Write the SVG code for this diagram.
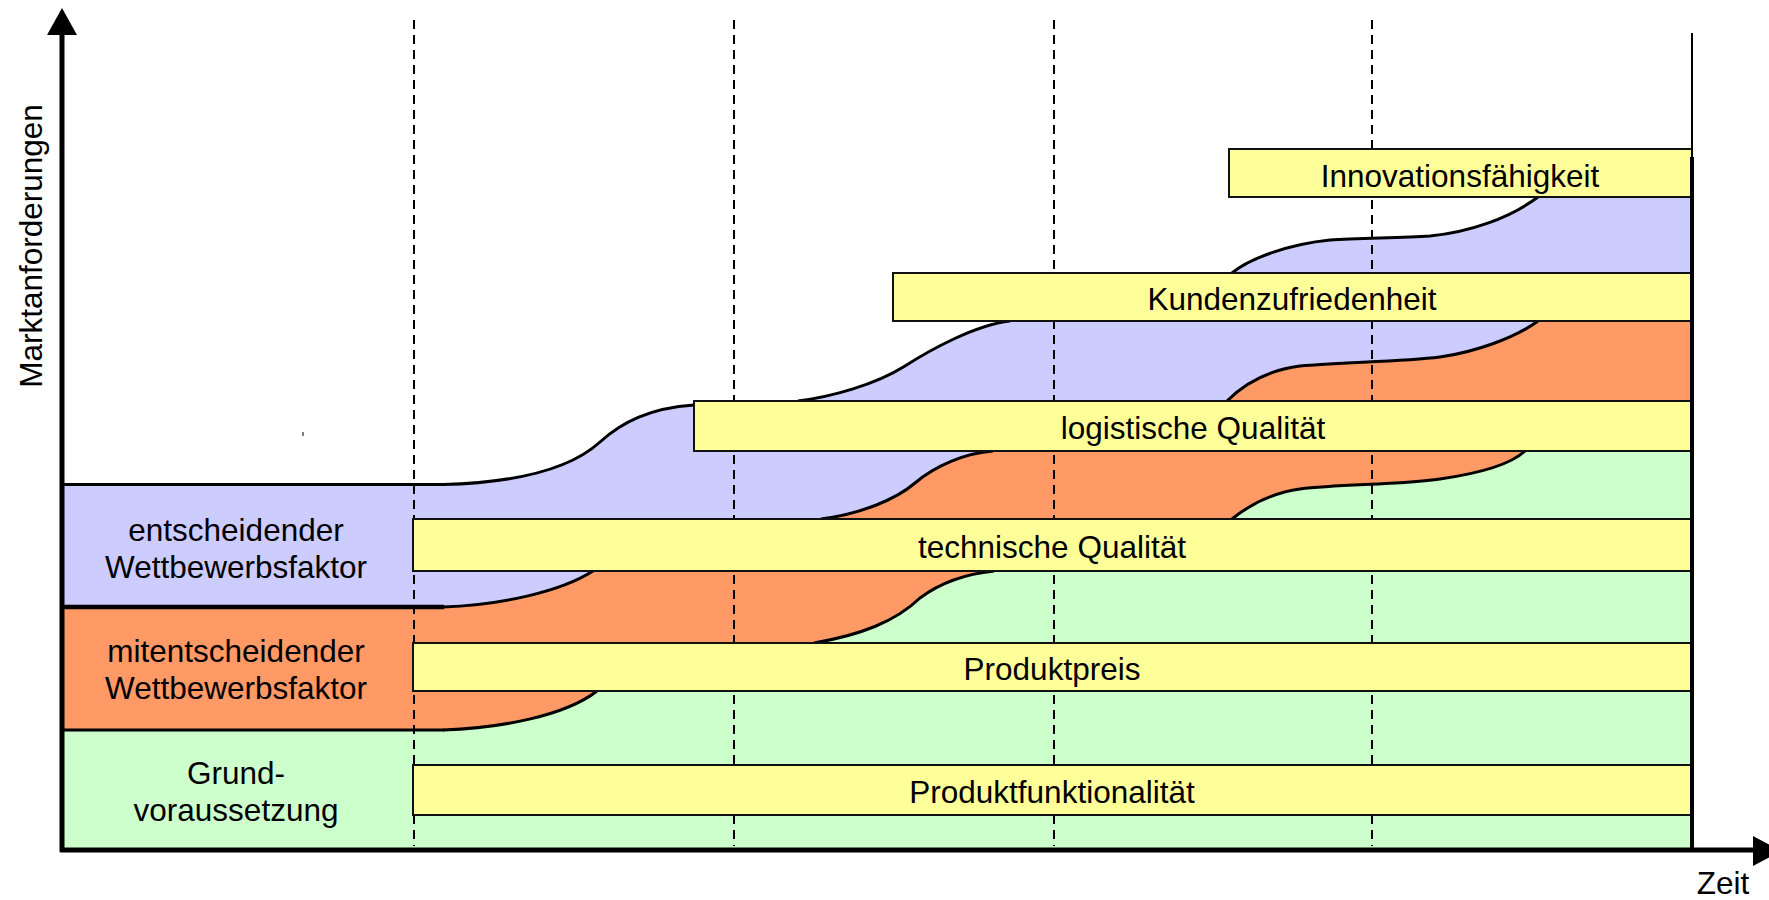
<svg xmlns="http://www.w3.org/2000/svg" width="1769" height="900" viewBox="0 0 1769 900">
  <style>
    .lbl { font-family: "Liberation Sans", Arial, sans-serif; font-size: 31.5px; fill: #000; text-anchor: middle; }
    .bar { fill: #FFFF99; stroke: #111; stroke-width: 2; }
    .edge { fill: none; stroke: #000; stroke-width: 3; stroke-linejoin: round; stroke-linecap: butt; }
    .grid { stroke: #000; stroke-width: 2; stroke-dasharray: 9 6; }
    .axis { stroke: #000; stroke-width: 5; fill: none; }
    .blue { fill: #CCCCFF; }
    .orange { fill: #FF9966; }
    .green { fill: #CCFFCC; }
  </style>

  <!-- coloured bands: each fills everything below its upper boundary -->
  <g id="bands">
    <path id="band-entscheidend" class="blue" d="M62 485 L444 485 C500 483 565 474 600 442 C622 422 650 408 694 405 L798 401 C830 397 875 385 905 366 C930 350 975 325 1010 321 L1232 273 C1250 258 1290 244 1330 240 C1360 238 1400 238 1430 236 C1470 232 1510 218 1538 197 L1692 195 L1692 850 L62 850 Z"/>
    <path id="band-mitentscheidend" class="orange" d="M62 607 L444 607 C500 605 560 592 593 571 L821 519 C860 514 895 500 915 483 C935 466 965 453 993 451 L1227 401 C1245 383 1270 370 1300 366 C1340 362 1400 362 1440 357 C1475 352 1515 338 1538 321 L1692 319 L1692 850 L62 850 Z"/>
    <path id="band-grund" class="green" d="M62 730 L443 730 C500 728 565 716 597 691 L814 643 C860 635 895 622 920 598 C940 583 965 574 994 571 L1232 519 C1248 506 1272 493 1300 489 C1340 484 1400 485 1440 479 C1475 474 1510 465 1525 451 L1692 449 L1692 850 L62 850 Z"/>
  </g>

  <!-- time period separators -->
  <g id="grid">
    <line class="grid" x1="414" y1="20" x2="414" y2="846"/>
    <line class="grid" x1="734" y1="20" x2="734" y2="846"/>
    <line class="grid" x1="1054" y1="20" x2="1054" y2="846"/>
    <line class="grid" x1="1372" y1="20" x2="1372" y2="846"/>
    <line x1="303" y1="432" x2="303" y2="436" stroke="#000" stroke-width="1"/>
  </g>

  <!-- band boundaries -->
  <g id="connectors">
    <line x1="62" y1="484.5" x2="444" y2="484.5" stroke="#000" stroke-width="3"/>
    <line x1="62" y1="607" x2="444" y2="607" stroke="#000" stroke-width="4.5"/>
    <line x1="62" y1="730" x2="444" y2="730" stroke="#000" stroke-width="3"/>

    <path class="edge" d="M443 484.5 C500 483 565 474 600 442 C622 422 650 408 694 405"/>
    <path class="edge" d="M798 401 C830 397 875 385 905 366 C930 350 975 325 1010 321"/>
    <path class="edge" d="M1232 273 C1250 258 1290 244 1330 240 C1360 238 1400 238 1430 236 C1470 232 1510 218 1538 197"/>

    <path class="edge" d="M443 607 C500 605 560 592 593 571"/>
    <path class="edge" d="M821 519 C860 514 895 500 915 483 C935 466 965 453 993 451"/>
    <path class="edge" d="M1227 401 C1245 383 1270 370 1300 366 C1340 362 1400 362 1440 357 C1475 352 1515 338 1538 321"/>

    <path class="edge" d="M443 730 C500 728 565 716 597 691"/>
    <path class="edge" d="M814 643 C860 635 895 622 920 598 C940 583 965 574 994 571"/>
    <path class="edge" d="M1232 519 C1248 506 1272 493 1300 489 C1340 484 1400 485 1440 479 C1475 474 1510 465 1525 451"/>
  </g>

  <!-- requirement bars -->
  <g id="innovationsfaehigkeit">
    <rect class="bar" x="1229" y="149" width="463" height="48"/>
    <text class="lbl" x="1460" y="187">Innovationsfähigkeit</text>
  </g>
  <g id="kundenzufriedenheit">
    <rect class="bar" x="893" y="273" width="799" height="48"/>
    <text class="lbl" x="1292" y="310">Kundenzufriedenheit</text>
  </g>
  <g id="logistische-qualitaet">
    <rect class="bar" x="694" y="401" width="998" height="50"/>
    <text class="lbl" x="1193" y="439">logistische Qualität</text>
  </g>
  <g id="technische-qualitaet">
    <rect class="bar" x="413" y="519" width="1279" height="52"/>
    <text class="lbl" x="1052" y="558">technische Qualität</text>
  </g>
  <g id="produktpreis">
    <rect class="bar" x="413" y="643" width="1279" height="48"/>
    <text class="lbl" x="1052" y="680">Produktpreis</text>
  </g>
  <g id="produktfunktionalitaet">
    <rect class="bar" x="413" y="765" width="1279" height="50"/>
    <text class="lbl" x="1052" y="803">Produktfunktionalität</text>
  </g>

  <!-- band legends -->
  <g id="legend-entscheidend">
    <text class="lbl" x="236" y="541">entscheidender</text>
    <text class="lbl" x="236" y="578">Wettbewerbsfaktor</text>
  </g>
  <g id="legend-mitentscheidend">
    <text class="lbl" x="236" y="662">mitentscheidender</text>
    <text class="lbl" x="236" y="699">Wettbewerbsfaktor</text>
  </g>
  <g id="legend-grund">
    <text class="lbl" x="236" y="784">Grund-</text>
    <text class="lbl" x="236" y="821">voraussetzung</text>
  </g>

  <!-- axes -->
  <g id="axes">
    <line x1="1692" y1="33" x2="1692" y2="158" stroke="#000" stroke-width="2"/>
    <line x1="1692" y1="157" x2="1692" y2="850" stroke="#000" stroke-width="4"/>
    <line class="axis" x1="62" y1="852" x2="62" y2="30"/>
    <polygon points="62,8 47,35 77,35" fill="#000"/>
    <line class="axis" x1="60" y1="850" x2="1756" y2="850"/>
    <polygon points="1753,836 1753,866 1781,851" fill="#000"/>
    <text class="lbl" x="1723" y="894" font-size="30">Zeit</text>
    <text class="lbl" x="0" y="0" font-size="32" transform="translate(42 246) rotate(-90)">Marktanforderungen</text>
  </g>
</svg>
